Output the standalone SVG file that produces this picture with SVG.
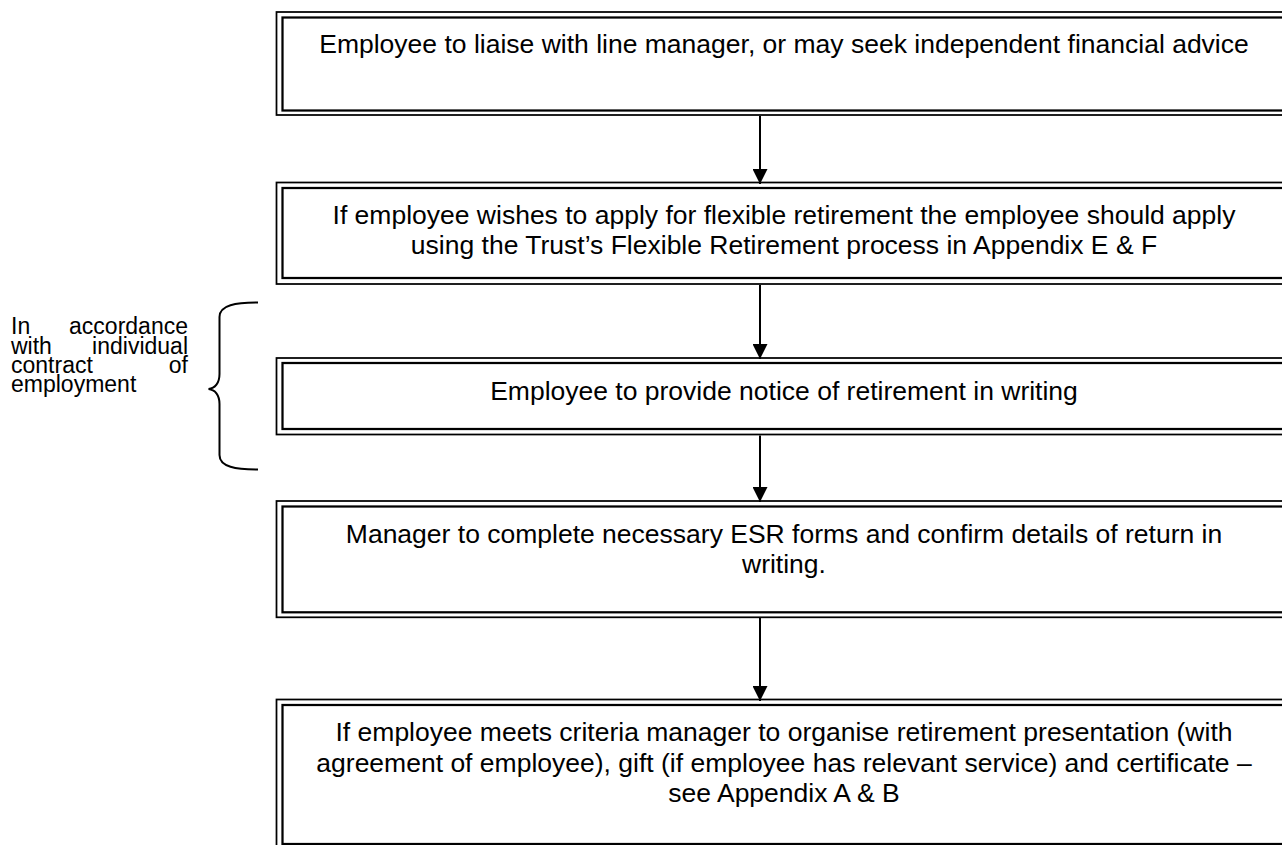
<svg xmlns="http://www.w3.org/2000/svg" width="1282" height="845" viewBox="0 0 1282 845">
<style>
.o{fill:none;stroke:#000;stroke-width:1.75}
.i{fill:none;stroke:#000;stroke-width:2.25}
.t{font-family:"Liberation Sans",Arial,sans-serif;font-size:26.5px;fill:#000;text-anchor:middle}
.s{font-family:"Liberation Sans",Arial,sans-serif;font-size:23px;fill:#000}
.c{fill:none;stroke:#000;stroke-width:2}
</style>
<defs>
<marker id="ah" markerWidth="16" markerHeight="15" refX="15" refY="7.5" orient="auto" markerUnits="userSpaceOnUse">
<path d="M0,0 L15,7.5 L0,15 Z" fill="#000"/>
</marker>
</defs>
<rect width="1282" height="845" fill="#fff"/>
<g id="node1">
<rect class="o" x="276.5" y="12" width="1015" height="103"/>
<rect class="i" x="282.5" y="17.5" width="1003" height="93"/>
<text class="t" x="784" y="53">Employee to liaise with line manager, or may seek independent financial advice</text>
</g>
<g id="node2">
<rect class="o" x="276.5" y="182.5" width="1015" height="101.5"/>
<rect class="i" x="282.5" y="188" width="1003" height="90"/>
<text class="t" x="784" y="223.5">If employee wishes to apply for flexible retirement the employee should apply</text>
<text class="t" x="784" y="253.5">using the Trust’s Flexible Retirement process in Appendix E &amp; F</text>
</g>
<g id="node3">
<rect class="o" x="276.5" y="358" width="1015" height="76.5"/>
<rect class="i" x="282.5" y="363" width="1003" height="66"/>
<text class="t" x="784" y="399.5">Employee to provide notice of retirement in writing</text>
</g>
<g id="node4">
<rect class="o" x="276.5" y="501" width="1015" height="116.3"/>
<rect class="i" x="282.5" y="506.5" width="1003" height="105.8"/>
<text class="t" x="784" y="543">Manager to complete necessary ESR forms and confirm details of return in</text>
<text class="t" x="784" y="573">writing.</text>
</g>
<g id="node5">
<rect class="o" x="276.5" y="699.5" width="1015" height="150"/>
<rect class="i" x="282.5" y="705" width="1003" height="139"/>
<text class="t" x="784" y="741">If employee meets criteria manager to organise retirement presentation (with</text>
<text class="t" x="784" y="771.5">agreement of employee), gift (if employee has relevant service) and certificate –</text>
<text class="t" x="784" y="802">see Appendix A &amp; B</text>
</g>
<g id="note">
<text class="s" x="11" y="334">In</text>
<text class="s" x="188" y="334" text-anchor="end">accordance</text>
<text class="s" x="11" y="353.5">with</text>
<text class="s" x="188" y="353.5" text-anchor="end">individual</text>
<text class="s" x="11" y="372.5">contract</text>
<text class="s" x="188" y="372.5" text-anchor="end">of</text>
<text class="s" x="11" y="391.5">employment</text>
<path class="c" d="M258,302.5 C236,302.5 219.5,305 219.5,317 L219.5,374 C219.5,383 215,388.5 208.5,389 C215,389.5 219.5,395 219.5,404 L219.5,455 C219.5,467 236,469.5 258,469.5"/>
</g>
<g id="connectors">
<line class="c" x1="760" y1="116" x2="760" y2="184" marker-end="url(#ah)"/>
<line class="c" x1="760" y1="285" x2="760" y2="359" marker-end="url(#ah)"/>
<line class="c" x1="760" y1="435.5" x2="760" y2="502" marker-end="url(#ah)"/>
<line class="c" x1="760" y1="618" x2="760" y2="701" marker-end="url(#ah)"/>
</g>
</svg>
